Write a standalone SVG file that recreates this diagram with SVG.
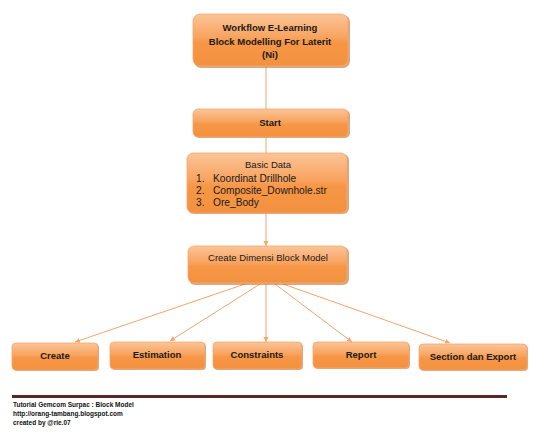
<svg xmlns="http://www.w3.org/2000/svg" width="540" height="439" viewBox="0 0 540 439">
<style>
.box{fill:url(#og);stroke:#f6a770;stroke-width:0.8}
.sh{fill:#b85e1e;opacity:0.55}
.t{font-family:"Liberation Sans",Arial,sans-serif;fill:#1a1a1a;text-anchor:middle}
.b{font-weight:bold;font-size:9.5px}
.r{font-size:9.5px}
.l{font-family:"Liberation Sans",Arial,sans-serif;fill:#1a1a1a;font-size:10.2px}
.c{stroke:#f3a56c;stroke-width:1;fill:none}
.f{font-family:"Liberation Sans",Arial,sans-serif;font-weight:bold;font-size:6.5px;fill:#111}
</style>
<defs>
<linearGradient id="og" x1="0" y1="0" x2="0" y2="1">
<stop offset="0" stop-color="#fbc597"/>
<stop offset="0.45" stop-color="#f8a35f"/>
<stop offset="0.55" stop-color="#f79646"/>
<stop offset="1" stop-color="#f2923f"/>
</linearGradient>
<marker id="ah" markerWidth="6" markerHeight="6" refX="5" refY="3" orient="auto" markerUnits="userSpaceOnUse">
<path d="M0,0.5 L5,3 L0,5.5 Z" fill="#f3a56c"/>
</marker>
</defs>
<rect width="540" height="439" fill="#ffffff"/>
<g id="connectors">
<line class="c" x1="266" y1="66" x2="266" y2="109"/>
<line class="c" x1="266" y1="137" x2="266" y2="153"/>
<line class="c" x1="266" y1="213" x2="266" y2="246" marker-end="url(#ah)"/>
<line class="c" x1="245" y1="284" x2="75" y2="342" marker-end="url(#ah)"/>
<line class="c" x1="260" y1="284" x2="170" y2="341" marker-end="url(#ah)"/>
<line class="c" x1="266" y1="284" x2="266" y2="342" marker-end="url(#ah)"/>
<line class="c" x1="275" y1="284" x2="352" y2="342" marker-end="url(#ah)"/>
<line class="c" x1="283" y1="284" x2="450" y2="343" marker-end="url(#ah)"/>
</g>
<g id="title">
<rect class="sh" x="194" y="15" width="156" height="53" rx="7"/>
<rect class="box" x="193" y="14" width="155" height="52" rx="7"/>
<text class="t b" x="270" y="31">Workflow E-Learning</text>
<text class="t b" x="270" y="45">Block Modelling For Laterit</text>
<text class="t b" x="270" y="58">(Ni)</text>
</g>
<g id="start">
<rect class="sh" x="194" y="110" width="156" height="28" rx="5"/>
<rect class="box" x="193" y="109" width="155" height="28" rx="5"/>
<text class="t b" x="270" y="126">Start</text>
</g>
<g id="basic-data">
<rect class="sh" x="188" y="154" width="161" height="60" rx="6"/>
<rect class="box" x="187" y="153" width="160" height="60" rx="6"/>
<text class="t r" x="268" y="168">Basic Data</text>
<text class="l" x="196" y="182">1.</text><text class="l" x="213" y="182">Koordinat Drillhole</text>
<text class="l" x="196" y="194">2.</text><text class="l" x="213" y="194">Composite_Downhole.str</text>
<text class="l" x="196" y="206">3.</text><text class="l" x="213" y="206">Ore_Body</text>
</g>
<g id="create-dimensi">
<rect class="sh" x="189" y="247" width="160" height="38" rx="6"/>
<rect class="box" x="188" y="246" width="159" height="37" rx="6"/>
<text class="t r" x="268" y="261">Create Dimensi Block Model</text>
</g>
<g id="create">
<rect class="sh" x="13" y="344" width="86" height="27" rx="4"/>
<rect class="box" x="12" y="343" width="86" height="27" rx="4"/>
<text class="t b" x="55" y="359">Create</text>
</g>
<g id="estimation">
<rect class="sh" x="111" y="343" width="95" height="27" rx="4"/>
<rect class="box" x="110" y="342" width="95" height="27" rx="4"/>
<text class="t b" x="157" y="358">Estimation</text>
</g>
<g id="constraints">
<rect class="sh" x="214" y="343" width="89" height="27" rx="4"/>
<rect class="box" x="213" y="342" width="89" height="27" rx="4"/>
<text class="t b" x="257" y="358">Constraints</text>
</g>
<g id="report">
<rect class="sh" x="314" y="343" width="96" height="26" rx="4"/>
<rect class="box" x="313" y="342" width="96" height="26" rx="4"/>
<text class="t b" x="361" y="358">Report</text>
</g>
<g id="section-export">
<rect class="sh" x="420" y="345" width="108" height="26" rx="4"/>
<rect class="box" x="419" y="344" width="108" height="26" rx="4"/>
<text class="t b" x="473" y="360">Section dan Export</text>
</g>
<g id="footer">
<rect x="12" y="395" width="495" height="3" fill="#5b2725"/>
<text class="f" x="13" y="407">Tutorial Gemcom Surpac : Block Model</text>
<text class="f" x="13" y="416">http://orang-tambang.blogspot.com</text>
<text class="f" x="13" y="425">created by @rie.07</text>
</g>
</svg>
